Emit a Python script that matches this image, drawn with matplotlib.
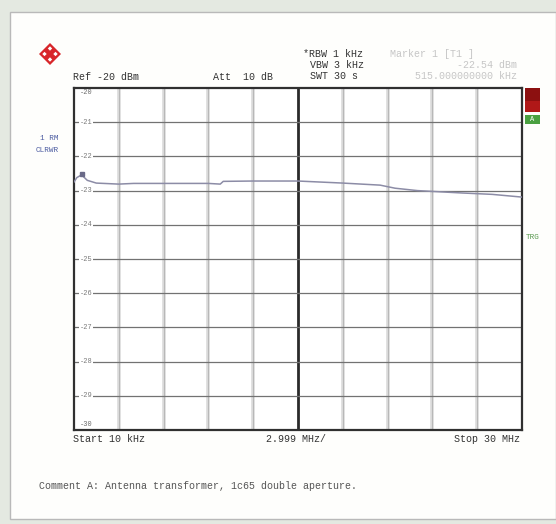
import matplotlib
matplotlib.use("Agg")
import matplotlib.pyplot as plt
import numpy as np
from matplotlib.patches import Rectangle, Polygon

# ---- data ----
freq_mhz = [0.01, 0.2, 0.515, 0.9, 1.5, 2.5, 3.0, 4.0, 6.0, 9.0, 9.8, 10.0,
            12.0, 15.0, 18.0, 20.5, 21.5, 23.0, 26.0, 28.0, 30.0]
level_dbm = [-22.75, -22.62, -22.54, -22.70, -22.78, -22.80, -22.81, -22.79,
             -22.79, -22.79, -22.81, -22.73, -22.72, -22.72, -22.78, -22.84,
             -22.93, -23.00, -23.07, -23.11, -23.19]
marker_freq = 0.515
marker_level = -22.54
start_mhz = 0.01
stop_mhz = 30.0
span_div = 2.999
ref_db = -20
n_div = 10
y_labels = ["-20", "-21", "-22", "-23", "-24", "-25", "-26", "-27", "-28", "-29", "-30"]

W, H = 556, 524
fig = plt.figure(figsize=(W / 100, H / 100), dpi=100)
fig.patch.set_facecolor("#e4e9e1")

def fx(x):
    return x / W

def fy(y):
    return 1 - y / H

# inner white page
fig.patches.append(Rectangle((fx(10), fy(519)), fx(556) - fx(10), fy(12) - fy(519),
                             transform=fig.transFigure, facecolor="#fefefc",
                             edgecolor="#b9b9b9", linewidth=1.0, zorder=-5))

mono = "Liberation Mono"
tc = "#333333"

ax = fig.add_axes([fx(74), fy(430), fx(522) - fx(74), fy(88) - fy(430)])
ax.set_zorder(1)
ax.set_facecolor("white")
ax.set_xlim(start_mhz, stop_mhz)
ax.set_ylim(ref_db - n_div, ref_db)
ax.set_xticks([])
ax.set_yticks([])
for s in ax.spines.values():
    s.set_color("#303030")
    s.set_linewidth(1.6)

xg = [start_mhz + i * span_div for i in range(1, n_div)]
for i, x in enumerate(xg):
    if i == 4:
        ax.axvline(x, color="#2a2a2a", lw=2.0, zorder=1)
    else:
        ax.axvline(x, color="#dadada", lw=2.6, zorder=1)
        ax.axvline(x, color="#b2b2b2", lw=0.6, zorder=1)
for k in range(1, n_div):
    ax.axhline(ref_db - k, color="#727272", lw=0.9, zorder=1)

ax.plot(freq_mhz, level_dbm, color="#8c8ca6", lw=1.1, zorder=3)
ax.plot([marker_freq], [marker_level + 0.04], marker="s", ms=3.5,
        color="#6a6a88", zorder=4)

# y labels inside plot
for k, lab in enumerate(y_labels):
    yv = ref_db - k
    if k == 0:
        ax.text(0.012, yv - 0.12, lab, transform=ax.get_yaxis_transform(),
                fontsize=5, family=mono, color="#6a6a6a", va="center", ha="left")
    elif k == n_div:
        ax.text(0.012, yv + 0.15, lab, transform=ax.get_yaxis_transform(),
                fontsize=5, family=mono, color="#6a6a6a", va="center", ha="left")
    else:
        ax.text(0.012, yv, lab, transform=ax.get_yaxis_transform(),
                fontsize=5, family=mono, color="#7a7a7a", va="center", ha="left",
                bbox=dict(facecolor="white", edgecolor="none", pad=0.3))

# header texts
fs = 7.2
fig.text(fx(73), fy(77), "Ref -20 dBm", family=mono, fontsize=fs, color=tc, va="center")
fig.text(fx(213), fy(77), "Att  10 dB", family=mono, fontsize=fs, color=tc, va="center")
fig.text(fx(303), fy(54), "*RBW 1 kHz", family=mono, fontsize=fs, color=tc, va="center")
fig.text(fx(310), fy(65), "VBW 3 kHz", family=mono, fontsize=fs, color=tc, va="center")
fig.text(fx(310), fy(76), "SWT 30 s", family=mono, fontsize=fs, color=tc, va="center")
fig.text(fx(390), fy(54), "Marker 1 [T1 ]", family=mono, fontsize=fs, color="#c6c6c6", va="center")
fig.text(fx(517), fy(65), "-22.54 dBm", family=mono, fontsize=fs, color="#c6c6c6", va="center", ha="right")
fig.text(fx(517), fy(76), "515.000000000 kHz", family=mono, fontsize=fs, color="#c6c6c6", va="center", ha="right")

fig.text(fx(40), fy(139), "1 RM", family=mono, fontsize=5.5, color="#4a5aa0", va="center")
fig.text(fx(36), fy(150), "CLRWR", family=mono, fontsize=5.5, color="#4a5aa0", va="center")
fig.text(fx(526), fy(237), "TRG", family=mono, fontsize=5.5, color="#5a9a50", va="center")

# footer texts
fig.text(fx(73), fy(439), "Start 10 kHz", family=mono, fontsize=fs, color=tc, va="center")
fig.text(fx(266), fy(439), "2.999 MHz/", family=mono, fontsize=fs, color=tc, va="center")
fig.text(fx(520), fy(439), "Stop 30 MHz", family=mono, fontsize=fs, color=tc, va="center", ha="right")
fig.text(fx(39), fy(486), "Comment A: Antenna transformer, 1c65 double aperture.",
         family=mono, fontsize=fs, color="#555555", va="center")

# right side indicator boxes
fig.patches.append(Rectangle((fx(525), fy(112)), fx(15), fy(88) - fy(112),
                             transform=fig.transFigure, facecolor="#b01818",
                             edgecolor="none", zorder=2))
fig.patches.append(Rectangle((fx(525), fy(101)), fx(15), fy(88) - fy(101),
                             transform=fig.transFigure, facecolor="#8c1010",
                             edgecolor="none", zorder=2))
fig.patches.append(Rectangle((fx(525), fy(124)), fx(15), fy(115) - fy(124),
                             transform=fig.transFigure, facecolor="#4aa040",
                             edgecolor="none", zorder=2))
fig.text(fx(532), fy(119.5), "A", family=mono, fontsize=5, color="white",
         va="center", ha="center")

# logo (red diamond)
cx, cy, r = 50, 54, 11
fig.patches.append(Polygon([(fx(cx - r), fy(cy)), (fx(cx), fy(cy - r)),
                            (fx(cx + r), fy(cy)), (fx(cx), fy(cy + r))],
                           closed=True, transform=fig.transFigure,
                           facecolor="#d8262a", edgecolor="none", zorder=2))
for dx, dy in [(-1, 0), (1, 0), (0, -1), (0, 1)]:
    ccx, ccy, rr = cx + dx * r / 2, cy + dy * r / 2, 2.2
    fig.patches.append(Polygon([(fx(ccx - rr), fy(ccy)), (fx(ccx), fy(ccy - rr)),
                                (fx(ccx + rr), fy(ccy)), (fx(ccx), fy(ccy + rr))],
                               closed=True, transform=fig.transFigure,
                               facecolor="white", edgecolor="none", zorder=3))

fig.savefig("out.png", dpi=100, facecolor=fig.get_facecolor())
